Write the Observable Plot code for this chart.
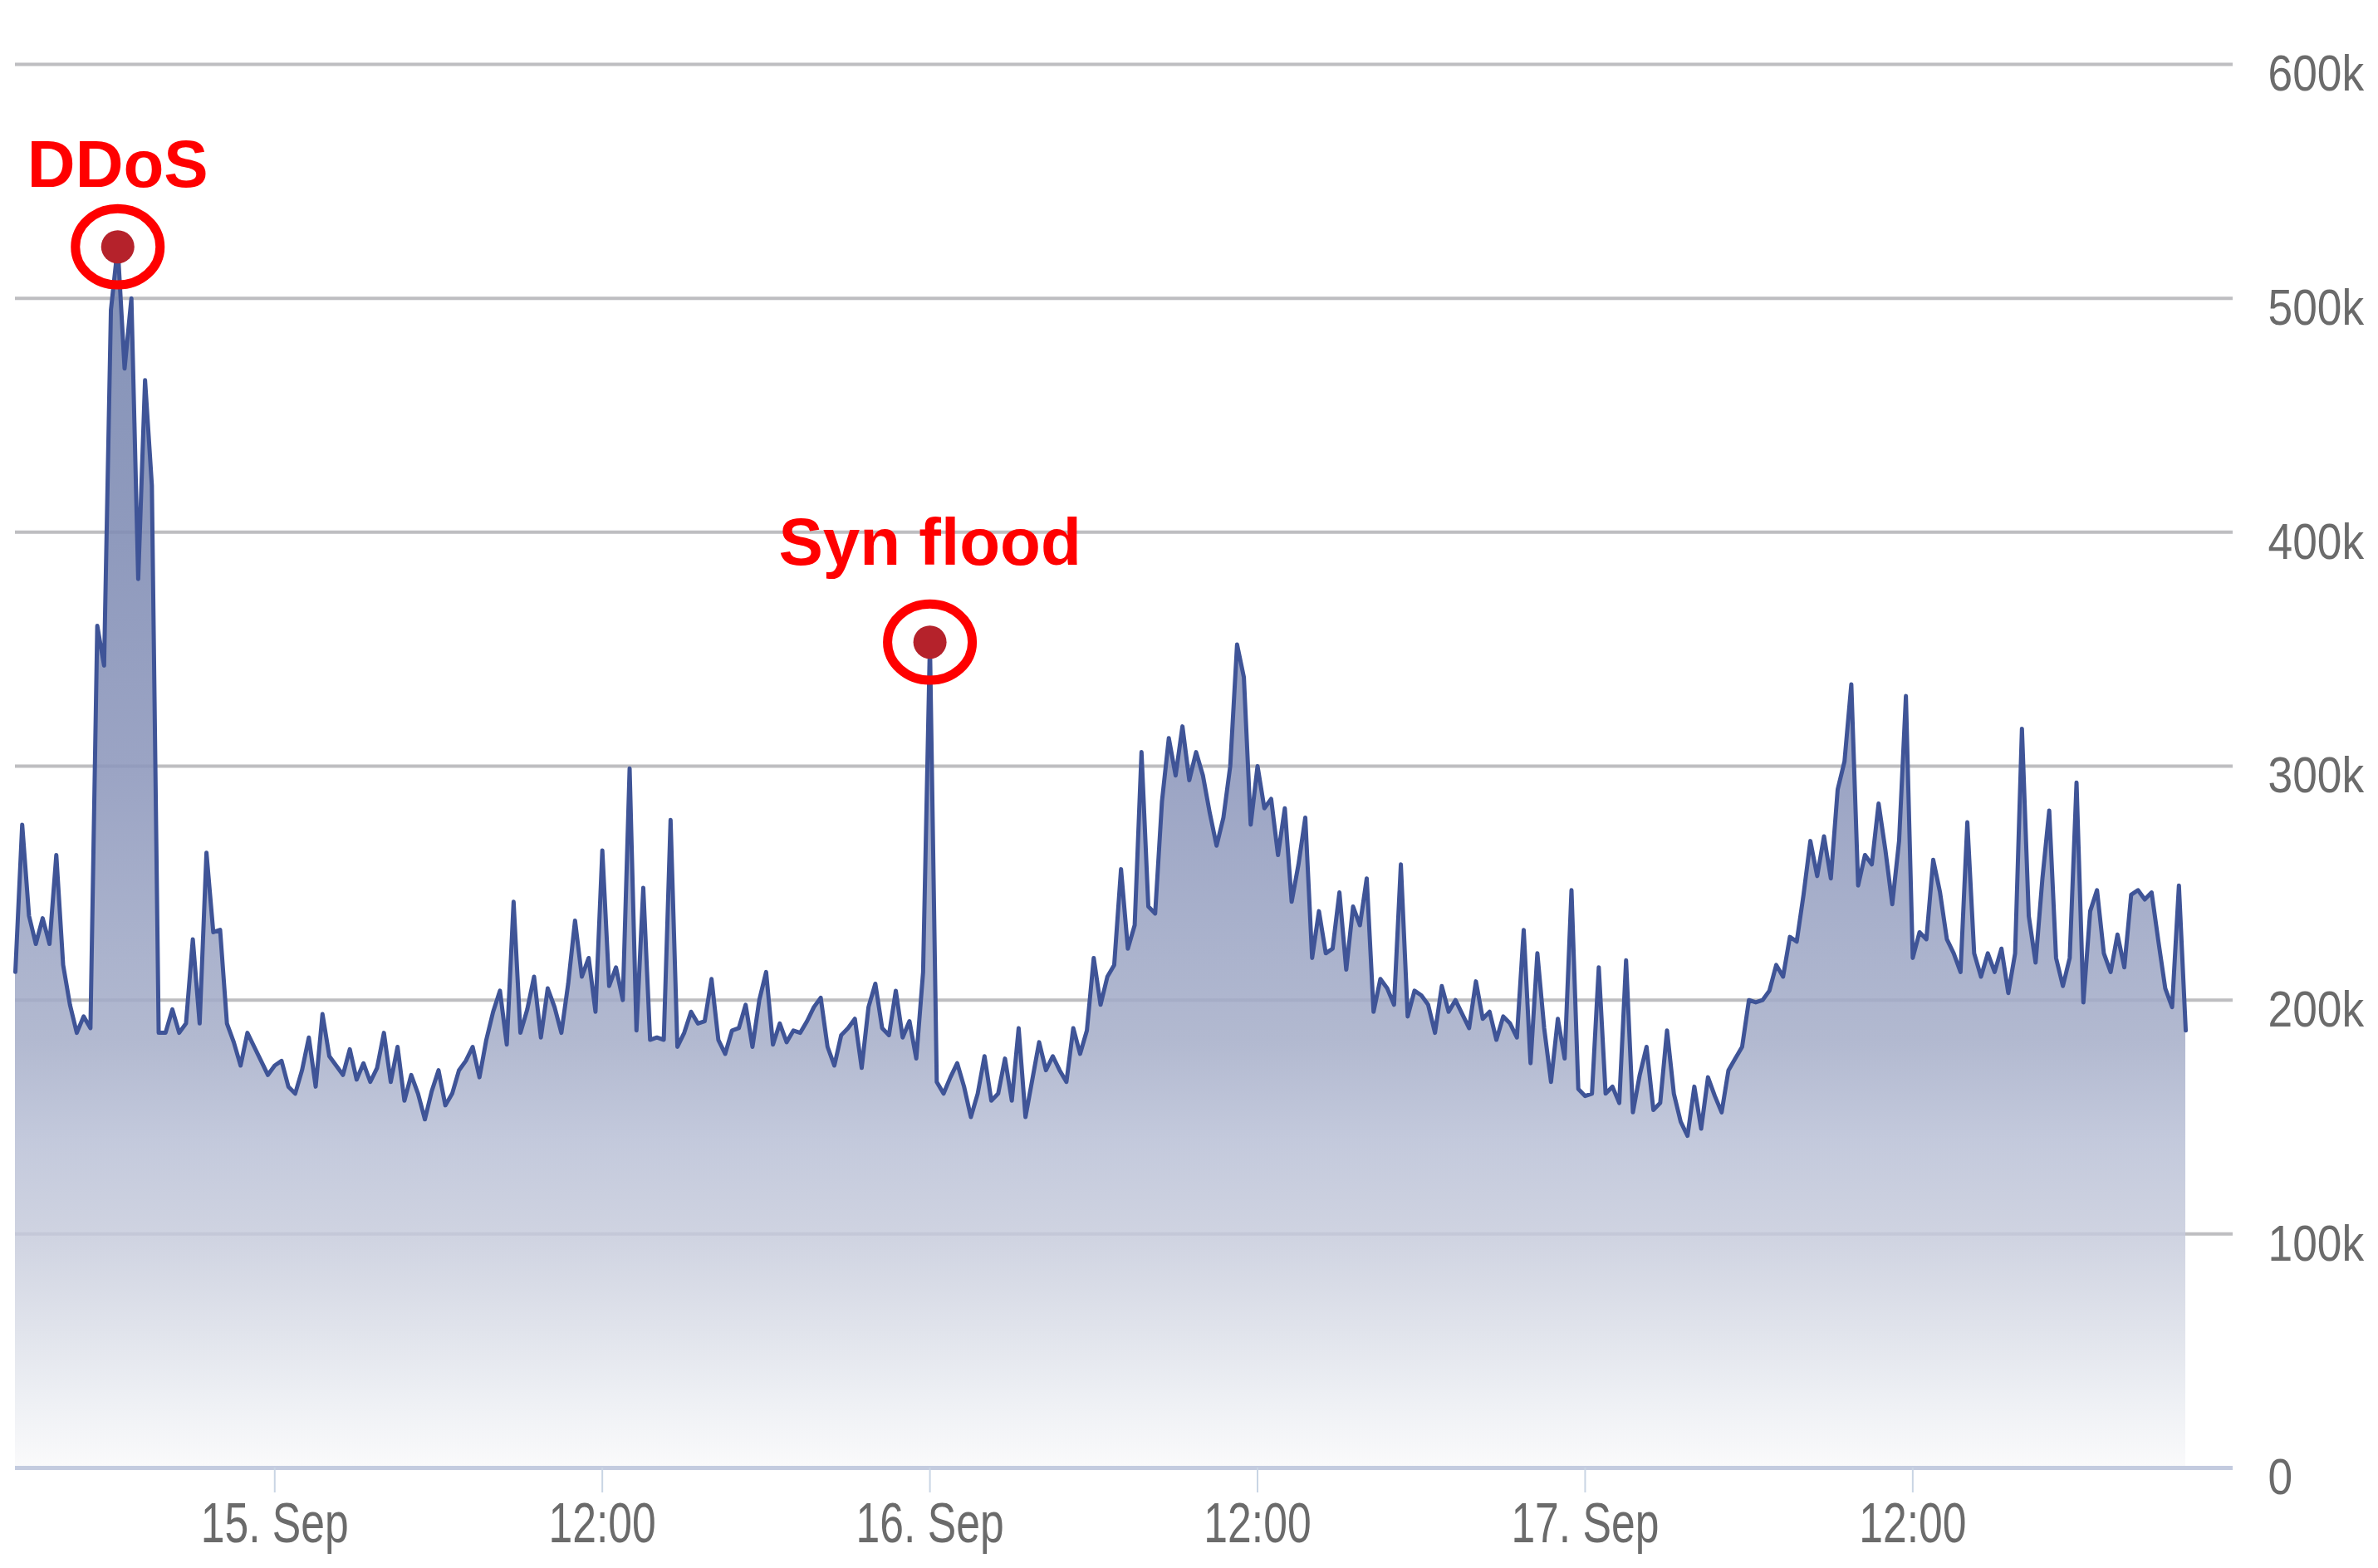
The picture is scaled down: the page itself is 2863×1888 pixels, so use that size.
<!DOCTYPE html>
<html>
<head>
<meta charset="utf-8">
<script src="https://cdn.jsdelivr.net/npm/d3@7"></script>
<script src="https://cdn.jsdelivr.net/npm/@observablehq/plot@0.6"></script>
<style>
  html, body { margin: 0; padding: 0; background: #ffffff; }
  #chart svg { display: block; }
</style>
</head>
<body>
<div id="chart"></div>
<script>
// ---- DATA ----
const startTime = "2015-09-14T14:30Z";
const stepMinutes = 15;
// traffic, in thousands, one value per 15 minutes
const trafficK = [
  212, 275, 236, 224, 235, 224, 262, 215, 198, 186,
  193, 188, 360, 343, 495, 522, 470, 500, 380, 465,
  420, 186, 186, 196, 186, 190, 226, 190, 263, 229,
  230, 190, 182, 172, 186, 180, 174, 168, 172, 174,
  163, 160, 170, 184, 163, 194, 176, 172, 168, 179,
  166, 173, 165, 171, 186, 165, 180, 157, 168, 160,
  149, 161, 170, 155, 160, 170, 174, 180, 167, 183,
  195, 204, 181, 242, 186, 196, 210, 184, 205, 197,
  186, 207, 234, 210, 218, 195, 264, 206, 214, 200,
  299, 187, 248, 183, 184, 183, 277, 180, 186, 195,
  190, 191, 209, 183, 177, 187, 188, 198, 180, 200,
  212, 181, 190, 182, 187, 186, 191, 197, 201, 180,
  172, 185, 188, 192, 171, 197, 207, 188, 185, 204,
  184, 191, 175, 212, 353, 165, 160, 167, 173, 163,
  150, 160, 176, 157, 160, 175, 157, 188, 150, 166,
  182, 170, 176, 170, 165, 188, 177, 187, 218, 198,
  210, 215, 256, 222, 232, 306, 240, 237, 285, 312,
  296, 317, 294, 306, 296, 280, 266, 278, 300, 352,
  338, 275, 300, 282, 286, 262, 282, 242, 258, 278,
  218, 238, 220, 222, 246, 213, 240, 232, 252, 195,
  209, 205, 198, 258, 193, 204, 202, 198, 186, 206,
  195, 200, 194, 188, 208, 192, 195, 183, 193, 190,
  184, 230, 173, 220, 188, 165, 192, 175, 247, 162,
  159, 160, 214, 160, 163, 156, 217, 152, 168, 180,
  153, 156, 187, 160, 148, 142, 163, 145, 167, 159,
  152, 170, 175, 180, 200, 199, 200, 204, 215, 210,
  227, 225, 245, 268, 253, 270, 252, 290, 302, 335,
  249, 262, 258, 284, 264, 241, 268, 330, 218, 229,
  226, 260, 246, 226, 220, 212, 276, 220, 210, 220,
  212, 222, 203, 220, 316, 236, 216, 252, 281, 218,
  206, 218, 293, 199, 238, 247, 220, 212, 228, 214,
  245, 247, 243, 246, 225, 205, 197, 249, 187
];
const xDomain = ["2015-09-14T14:30Z", "2015-09-17T23:44Z"];
const xTicks = ["2015-09-15T00:00Z", "2015-09-15T12:00Z", "2015-09-16T00:00Z",
                "2015-09-16T12:00Z", "2015-09-17T00:00Z", "2015-09-17T12:00Z"];
const xTickLabels = ["15. Sep", "12:00", "16. Sep", "12:00", "17. Sep", "12:00"];
const yDomain = [0, 600000];
const yTicks = [0, 100000, 200000, 300000, 400000, 500000, 600000];
const yTickLabels = ["0", "100k", "200k", "300k", "400k", "500k", "600k"];
const annotationLabels = ["DDoS", "Syn flood"];
const annotationTimes = ["2015-09-14T18:15Z", "2015-09-16T00:00Z"];

// ---- STYLE ----
const lineColor = "#3f5497";
const gridColor = "#c8c8c8";
const labelColor = "#6b6b6b";
const red = "#ff0000";
const annotationDy = [-72, -93];

// ---- BUILD TABLES ----
const t0 = new Date(startTime).getTime();
const data = trafficK.map((v, i) => ({ time: new Date(t0 + i * stepMinutes * 60000), value: v * 1000 }));
const xTickDates = xTicks.map(d => new Date(d));
const annots = annotationLabels.map((label, i) => {
  const t = new Date(annotationTimes[i]).getTime();
  const p = data.find(d => d.time.getTime() === t);
  return { label, time: p.time, value: p.value };
});

const ellipse = {
  draw(context, size) {
    const r = Math.sqrt(size / Math.PI), rx = r, ry = r * 0.9, k = 0.5523;
    context.moveTo(rx, 0);
    context.bezierCurveTo(rx, ry * k, rx * k, ry, 0, ry);
    context.bezierCurveTo(-rx * k, ry, -rx, ry * k, -rx, 0);
    context.bezierCurveTo(-rx, -ry * k, -rx * k, -ry, 0, -ry);
    context.bezierCurveTo(rx * k, -ry, rx, -ry * k, rx, 0);
    context.closePath();
  }
};

const xFmt = d => { const j = xTickDates.findIndex(t => +t === +d); return j >= 0 ? xTickLabels[j] : ""; };
const yFmt = d => { const j = yTicks.indexOf(d); return j >= 0 ? yTickLabels[j] : ""; };
const grids = yTicks.filter(d => d > 0);

const svg = Plot.plot({
  width: 2863,
  height: 1888,
  marginLeft: 18,
  marginRight: 175,
  marginTop: 77,
  marginBottom: 121,
  style: { background: "#ffffff", fontFamily: "'Liberation Sans', Arial, sans-serif" },
  x: { type: "utc", domain: xDomain.map(d => new Date(d)), axis: null },
  y: { domain: yDomain, axis: null },
  marks: [
    Plot.ruleY(grids, { stroke: gridColor, strokeWidth: 4 }),
    Plot.areaY(data, { x: "time", y: "value", fill: "url(#areaGrad)" }),
    Plot.ruleY(grids, { stroke: "#1c2a5a", strokeOpacity: 0.06, strokeWidth: 4 }),
    Plot.ruleY([0], { stroke: "#c3cbdf", strokeWidth: 5 }),
    Plot.lineY(data, { x: "time", y: "value", stroke: lineColor, strokeWidth: 5, strokeLinejoin: "round" }),
    Plot.axisX(xTickDates, { anchor: "bottom", tickSize: 30, tickPadding: 11, stroke: "#c9d5e4", strokeWidth: 2,
      color: labelColor, fontSize: 68, tickFormat: xFmt, label: null }),
    Plot.axisY(yTicks, { anchor: "right", tickSize: 0, tickPadding: 42, color: labelColor, fontSize: 62,
      dy: 12, textAnchor: "start", tickFormat: yFmt, label: null }),
    Plot.dot(annots, { x: "time", y: "value", r: 20, fill: "#b5222b" }),
    Plot.dot(annots, { x: "time", y: "value", r: 51, symbol: ellipse, stroke: red, strokeWidth: 11, fill: "none" }),
    Plot.text([annots[0]], { x: "time", y: "value", text: "label", fill: red, fontSize: 80, fontWeight: "bold",
      lineAnchor: "bottom", dy: annotationDy[0] }),
    Plot.text([annots[1]], { x: "time", y: "value", text: "label", fill: red, fontSize: 80, fontWeight: "bold",
      lineAnchor: "bottom", dy: annotationDy[1] })
  ]
});

// gradient definition for the area fill
const NS = "http://www.w3.org/2000/svg";
const defs = document.createElementNS(NS, "defs");
const grad = document.createElementNS(NS, "linearGradient");
grad.setAttribute("id", "areaGrad");
grad.setAttribute("x1", "0"); grad.setAttribute("y1", "0");
grad.setAttribute("x2", "0"); grad.setAttribute("y2", "1");
[[0, "#8593b8"], [0.24, "#8f9abd"], [0.43, "#9ba4c4"], [0.58, "#abb3cd"], [0.65, "#b2b9d0"],
 [0.73, "#c3c9dc"], [0.81, "#cfd3e1"], [0.89, "#e1e4ec"], [0.95, "#eff1f5"], [1, "#fafafb"]]
  .forEach(([o, c]) => {
    const s = document.createElementNS(NS, "stop");
    s.setAttribute("offset", o); s.setAttribute("stop-color", c);
    grad.appendChild(s);
  });
defs.appendChild(grad);
svg.insertBefore(defs, svg.firstChild);

// condensed look of the axis labels
function condense(selector, sx) {
  svg.querySelectorAll(selector).forEach(t => {
    const tr = t.getAttribute("transform") || "";
    const xa = t.getAttribute("x");
    let extra = "";
    if (xa !== null && !isNaN(+xa)) { extra = ` translate(${+xa},0)`; t.removeAttribute("x"); }
    t.setAttribute("transform", `${tr}${extra} scale(${sx},1)`);
  });
}
condense('g[aria-label="x-axis tick label"] text', 0.76);
condense('g[aria-label="y-axis tick label"] text', 0.86);

document.getElementById("chart").appendChild(svg);
</script>
</body>
</html>
